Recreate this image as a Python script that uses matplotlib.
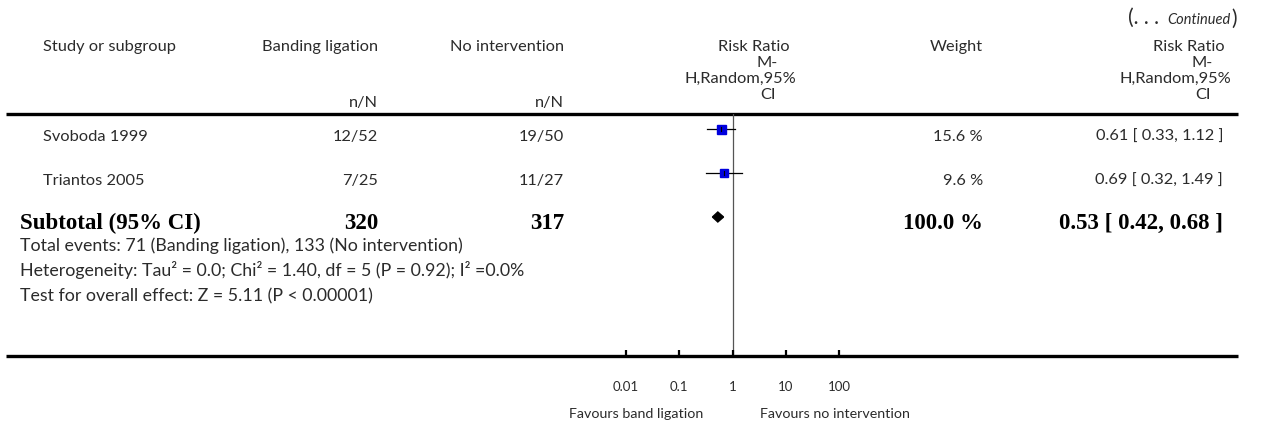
import matplotlib
matplotlib.use("Agg")
import matplotlib.pyplot as plt
import numpy as np
from matplotlib.lines import Line2D
from matplotlib.patches import Polygon

# ---------------- data ----------------
studies = ["Svoboda 1999", "Triantos 2005"]
band_events = ["12/52", "7/25"]
noint_events = ["19/50", "11/27"]
weights = [15.6, 9.6]
rr = [0.61, 0.69]
ci_low = [0.33, 0.32]
ci_high = [1.12, 1.49]

subtotal_label = "Subtotal (95% CI)"
subtotal_band_total = 320
subtotal_noint_total = 317
subtotal_weight = 100.0
subtotal_rr = 0.53
subtotal_low = 0.42
subtotal_high = 0.68

footer_lines = [
    "Total events: 71 (Banding ligation), 133 (No intervention)",
    "Heterogeneity: Tau\u00b2 = 0.0; Chi\u00b2 = 1.40, df = 5 (P = 0.92); I\u00b2 =0.0%",
    "Test for overall effect: Z = 5.11 (P < 0.00001)",
]
xticks = [0.01, 0.1, 1, 10, 100]
xtick_labels = ["0.01", "0.1", "1", "10", "100"]
favours_left = "Favours band ligation"
favours_right = "Favours no intervention"

# ---------------- layout ----------------
W, H = 1268, 427
fig = plt.figure(figsize=(W / 100, H / 100), dpi=100)
bg = fig.add_axes([0, 0, 1, 1])
bg.set_xlim(0, W)
bg.set_ylim(H, 0)
bg.axis("off")

SANS = ["Lato", "DejaVu Sans"]
SERIF = ["Liberation Serif", "DejaVu Serif"]
TXT = "#2b2b2b"
FS = 11.8
FSF = 12.8
FSB = 16.5

top_line_y = 115
bot_line_y = 357
row_y0 = 130
row_step = 44
base_off = 11

def t(x, y, s, ha="left", fs=FS, family=SANS, weight="normal", color=TXT, style="normal"):
    bg.text(x, y, s, ha=ha, va="baseline", fontsize=fs, family=family,
            fontweight=weight, color=color, fontstyle=style)

# header
t(1237, 25, ")", ha="right", fs=15)
t(1231, 24, "Continued", ha="right", fs=10.5, style="italic")
t(1164, 24, "(. . . ", ha="right", fs=15)
t(43, 51, "Study or subgroup")
t(378, 51, "Banding ligation", ha="right")
t(564, 51, "No intervention", ha="right")
t(983, 51, "Weight", ha="right")
t(378, 107, "n/N", ha="right")
t(564, 107, "n/N", ha="right")
for x0 in (790, 1225):
    t(x0, 51, "Risk Ratio", ha="right")
    t(x0 - 12, 67, "M-", ha="right")
    t(x0 + 6, 83, "H,Random,95%", ha="right")
    t(x0 - 14, 99, "CI", ha="right")

# horizontal rules
for yy in (top_line_y, bot_line_y):
    bg.add_line(Line2D([6, 1238], [yy, yy], color="black", lw=2.4, solid_capstyle="butt"))

# study rows text
row_y = [row_y0 + i * row_step for i in range(len(studies))]
for i, name in enumerate(studies):
    yb = row_y[i] + base_off
    t(43, yb, name)
    t(378, yb, band_events[i], ha="right")
    t(564, yb, noint_events[i], ha="right")
    t(983, yb, f"{weights[i]:.1f} %", ha="right")
    t(1223, yb, f"{rr[i]:.2f} [ {ci_low[i]:.2f}, {ci_high[i]:.2f} ]", ha="right")

sub_y = row_y0 + len(studies) * row_step
yb = sub_y + base_off
t(20, yb, subtotal_label, fs=FSB, family=SERIF, weight="bold", color="black")
t(378, yb, str(subtotal_band_total), ha="right", fs=FSB, family=SERIF, weight="bold", color="black")
t(564, yb, str(subtotal_noint_total), ha="right", fs=FSB, family=SERIF, weight="bold", color="black")
t(983, yb, f"{subtotal_weight:.1f} %", ha="right", fs=FSB, family=SERIF, weight="bold", color="black")
t(1223, yb, f"{subtotal_rr:.2f} [ {subtotal_low:.2f}, {subtotal_high:.2f} ]", ha="right",
  fs=FSB, family=SERIF, weight="bold", color="black")

for k, line in enumerate(footer_lines):
    t(20, 251 + 25 * k, line, fs=FSF)

# ---------------- forest axes ----------------
x_lo_px, x_hi_px = 626, 839
ax = fig.add_axes([x_lo_px / W, (H - bot_line_y) / H, (x_hi_px - x_lo_px) / W,
                   (bot_line_y - top_line_y) / H])
ax.set_xscale("log")
ax.set_xlim(xticks[0], xticks[-1])
ax.set_ylim(bot_line_y, top_line_y)
ax.patch.set_alpha(0)
for sp in ax.spines.values():
    sp.set_visible(False)
ax.set_yticks([])
ax.set_xticks(xticks)
ax.set_xticklabels(xtick_labels, fontsize=9.5, family=SANS, color=TXT)
ax.minorticks_off()
ax.tick_params(axis="x", direction="in", length=4, width=1.6, color="black", pad=17)

ax.axvline(1, color="#555555", lw=0.9, zorder=1)

k_size = 9 / np.sqrt(15.6) * 0.72  # points per sqrt(weight)
for i in range(len(studies)):
    ax.plot([ci_low[i], ci_high[i]], [row_y[i], row_y[i]], color="black", lw=0.9, zorder=2, clip_on=False)
    ax.plot([rr[i]], [row_y[i]], marker="s", color="#0000dd", markeredgecolor="#0000dd",
            markersize=k_size * np.sqrt(weights[i]), zorder=3, clip_on=False)
    ax.plot([rr[i], rr[i]], [row_y[i] - 2, row_y[i] + 2], color="black", lw=0.8, zorder=4, clip_on=False)

dh = 5
diamond = Polygon([[subtotal_low, sub_y], [subtotal_rr, sub_y - dh], [subtotal_high, sub_y],
                   [subtotal_rr, sub_y + dh]], closed=True, color="black", zorder=3, clip_on=False)
ax.add_patch(diamond)

# favours labels
bg.text(703, 418, favours_left, ha="right", va="baseline", fontsize=10.3, family=SANS, color=TXT)
bg.text(760, 418, favours_right, ha="left", va="baseline", fontsize=10.3, family=SANS, color=TXT)

fig.savefig("out.png", dpi=100)
